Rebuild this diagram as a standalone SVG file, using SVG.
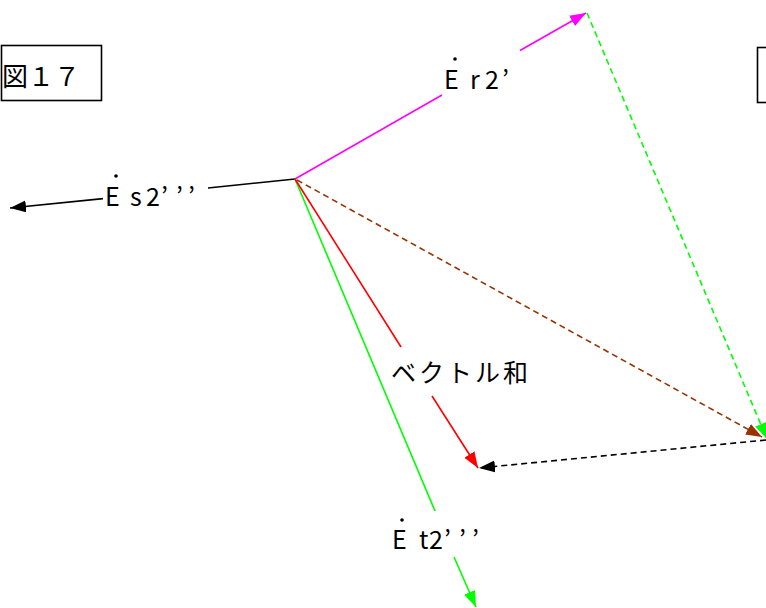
<svg xmlns="http://www.w3.org/2000/svg" width="766" height="608" viewBox="0 0 766 608">
<style>
text{font-family:"Noto Sans CJK JP","Noto Sans",sans-serif;fill:#000;}
.lbl{font-size:25px;}
.box{fill:none;stroke:#000;stroke-width:1.6;}
.s{fill:none;stroke-width:1.6;}
.d{fill:none;stroke-width:1.6;stroke-dasharray:6 4;}
</style>
<defs>
<marker id="ak" markerUnits="userSpaceOnUse" markerWidth="18" markerHeight="14" refX="16" refY="6" orient="auto"><path d="M0,0 L16,6 L0,12 z" fill="#000"/></marker>
<marker id="am" markerUnits="userSpaceOnUse" markerWidth="18" markerHeight="14" refX="16" refY="6" orient="auto"><path d="M0,0 L16,6 L0,12 z" fill="#FF00FF"/></marker>
<marker id="ag" markerUnits="userSpaceOnUse" markerWidth="18" markerHeight="14" refX="16" refY="6" orient="auto"><path d="M0,0 L16,6 L0,12 z" fill="#00FF00"/></marker>
<marker id="ar" markerUnits="userSpaceOnUse" markerWidth="18" markerHeight="14" refX="16" refY="6" orient="auto"><path d="M0,0 L16,6 L0,12 z" fill="#FF0000"/></marker>
<marker id="ab" markerUnits="userSpaceOnUse" markerWidth="18" markerHeight="14" refX="16" refY="6" orient="auto"><path d="M0,0 L16,6 L0,12 z" fill="#993300"/></marker>
</defs>
<g id="fig-label">
<rect class="box" x="1.5" y="45.5" width="100" height="55"/>
<text x="2 28 54" y="86" font-size="26">図１７</text>
</g>
<g id="right-box">
<rect class="box" x="757.5" y="47.5" width="30" height="55"/>
</g>
<g id="connectors">
<line class="s" stroke="#000" x1="295" y1="179" x2="208" y2="188"/>
<line class="s" stroke="#000" x1="103" y1="198.6" x2="10" y2="208" marker-end="url(#ak)"/>
<line class="s" stroke="#FF00FF" x1="295" y1="179" x2="442" y2="95"/>
<line class="s" stroke="#FF00FF" x1="520" y1="50.5" x2="586" y2="13" marker-end="url(#am)"/>
<line class="s" stroke="#00FF00" x1="295" y1="179" x2="435" y2="511"/>
<line class="s" stroke="#00FF00" x1="454" y1="557" x2="476" y2="607" marker-end="url(#ag)"/>
<line class="s" stroke="#FF0000" x1="295" y1="179" x2="401" y2="347"/>
<line class="s" stroke="#FF0000" x1="432" y1="396" x2="478" y2="468" marker-end="url(#ar)"/>
<line class="d" stroke="#993300" x1="297" y1="180" x2="762" y2="437" marker-end="url(#ab)"/>
<line class="d" stroke="#00FF00" x1="587" y1="13" x2="767" y2="439" marker-end="url(#ag)"/>
<line class="d" stroke="#000" x1="766" y1="440" x2="479" y2="468" marker-end="url(#ak)"/>
</g>
<g id="label-Er2">
<circle cx="455" cy="59" r="1.8" fill="#000"/>
<text class="lbl" x="444 470 485 502" y="89">Er2’</text>
</g>
<g id="label-Es2">
<circle cx="116" cy="176" r="1.8" fill="#000"/>
<text class="lbl" x="105 130 146 161 176 188" y="206">Es2’’’</text>
</g>
<g id="label-Et2">
<circle cx="402" cy="520" r="1.8" fill="#000"/>
<text class="lbl" x="392 419 429 444 459 472" y="549">Et2’’’</text>
</g>
<g id="label-sum">
<text x="391" y="382" font-size="25" textLength="137" lengthAdjust="spacing">ベクトル和</text>
</g>
</svg>
